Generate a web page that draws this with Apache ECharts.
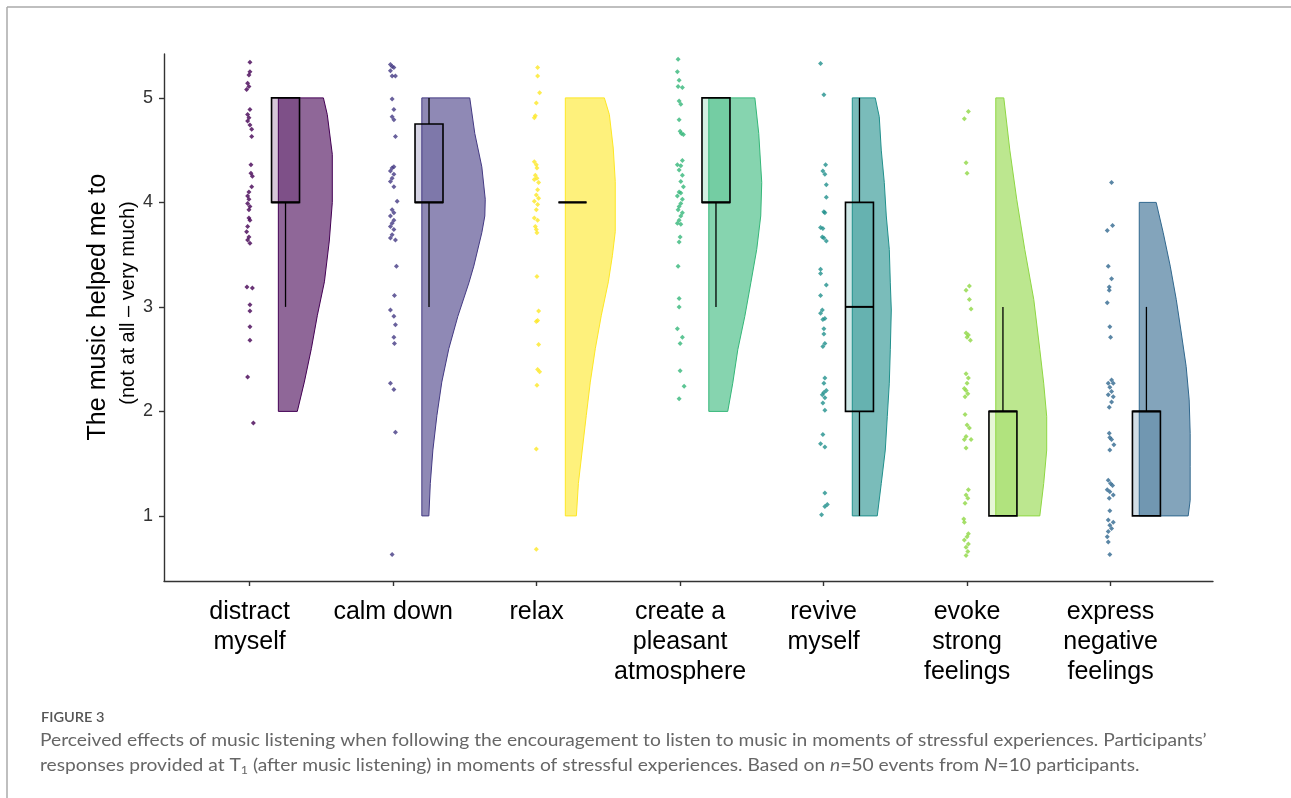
<!DOCTYPE html>
<html>
<head>
<meta charset="utf-8">
<script src="https://cdn.jsdelivr.net/npm/echarts@6/dist/echarts.min.js"></script>
<style>
  html, body { margin: 0; padding: 0; background: #fff; }
  #chart { width: 1291px; height: 798px; }
</style>
</head>
<body>
<div id="chart"></div>
<script>
// Categories of perceived effect, in display order
const categories = [
  'distract\nmyself', 'calm down', 'relax', 'create a\npleasant\natmosphere',
  'revive\nmyself', 'evoke\nstrong\nfeelings', 'express\nnegative\nfeelings'
];
const yTicks = [1, 2, 3, 4, 5];

// Jittered individual ratings: [rating as plotted, horizontal jitter]
const ptsDistract = [[5.34,0.002],[5.25,0.002],[5.22,-0.005],[5.14,-0.014],[5.11,-0.005],[5.08,-0.021],[4.89,0.002],[4.84,-0.014],[4.81,-0.005],[4.78,-0.014],[4.74,0.002],[4.70,0.014],[4.63,0.014],
  [4.36,0.009],[4.28,0.009],[4.25,0.019],[4.15,0.014],[4.10,-0.005],[4.06,-0.014],[4.03,-0.005],[3.99,-0.014],[3.96,0.002],[3.93,-0.005],[3.85,-0.005],[3.83,0.002],[3.77,-0.014],[3.72,-0.021],[3.67,-0.005],[3.64,-0.014],[3.61,0.002],
  [3.19,-0.019],[3.18,0.019],[3.02,0.002],[2.96,0.002],[2.81,0.002],[2.68,0.002],[2.33,-0.014],[1.89,0.026]];
const ptsCalm = [[5.32,-0.019],[5.30,-0.007],[5.29,0.005],[5.26,-0.019],[5.21,0.016],[5.21,-0.007],
  [4.99,-0.007],[4.89,0.005],[4.82,-0.007],[4.79,0.005],[4.63,0.016],
  [4.34,0.005],[4.33,-0.007],[4.30,-0.019],[4.27,0.005],[4.23,-0.007],[4.20,-0.019],[4.15,0.005],[4.01,0.028],
  [3.93,-0.007],[3.90,0.005],[3.87,-0.019],[3.83,0.005],[3.80,-0.007],[3.77,-0.019],[3.74,0.005],[3.69,-0.007],[3.66,-0.019],[3.64,0.016],
  [3.39,0.023],[3.11,0.009],[2.97,-0.019],[2.91,0.005],[2.83,0.016],[2.71,0.005],[2.65,0.009],
  [2.27,-0.019],[2.21,0.005],[1.80,0.016],[0.63,-0.007]];
const ptsRelax = [[5.29,0.007],[5.21,0.007],[5.05,0.021],[4.95,-0.002],[4.83,-0.009],[4.81,-0.016],
  [4.39,-0.016],[4.36,-0.002],[4.33,0.002],[4.26,-0.009],[4.23,0.002],[4.22,-0.016],[4.19,0.014],[4.12,0.007],[4.07,-0.002],[4.04,0.014],[4.01,-0.016],[3.98,0.007],[3.93,-0.002],[3.85,-0.016],[3.83,0.007],[3.77,-0.009],[3.74,-0.002],[3.71,0.002],
  [3.29,0.002],[2.96,0.014],[2.87,0.007],[2.86,-0.002],[2.64,0.014],[2.40,0.007],[2.38,0.021],[2.25,0.002],
  [1.64,-0.002],[0.68,-0.002]];
const ptsCreate = [[5.37,-0.014],[5.25,-0.019],[5.17,-0.007],[5.11,-0.014],[5.10,0.016],[4.97,-0.007],[4.94,0.005],[4.79,-0.007],[4.68,0.000],[4.66,0.009],[4.65,0.023],
  [4.40,0.016],[4.36,-0.019],[4.35,0.005],[4.31,-0.007],[4.26,0.016],[4.20,0.005],[4.15,0.023],[4.10,-0.007],[4.09,0.005],[4.06,-0.019],[4.03,0.016],[3.99,0.005],[3.96,-0.007],[3.93,-0.014],[3.90,0.016],[3.87,0.005],[3.83,-0.007],[3.80,-0.019],[3.79,0.005],[3.67,0.000],[3.62,-0.007],
  [3.39,-0.014],[3.08,-0.007],[3.00,-0.007],[2.79,-0.019],[2.71,0.016],[2.65,0.000],
  [2.39,0.000],[2.24,0.028],[2.12,-0.007]];
const ptsRevive = [[5.33,-0.021],[5.03,0.002],
  [4.36,0.014],[4.30,-0.005],[4.27,0.009],[4.17,0.019],[4.05,0.019],[3.91,0.002],[3.90,0.009],[3.76,-0.021],[3.75,-0.005],[3.67,-0.009],[3.66,0.002],[3.63,0.019],
  [3.36,-0.021],[3.32,-0.021],[3.21,0.019],[3.11,-0.021],[2.97,-0.009],[2.94,-0.021],[2.89,0.009],[2.88,-0.005],[2.79,0.002],[2.74,0.002],[2.65,0.009],[2.62,-0.005],
  [2.32,0.009],[2.27,0.002],[2.20,0.019],[2.18,0.002],[2.16,-0.009],[2.13,0.009],[2.08,-0.005],[2.01,0.009],
  [1.78,-0.005],[1.69,-0.021],[1.66,0.009],
  [1.22,0.009],[1.11,0.026],[1.09,0.009],[1.01,-0.014]];
const ptsEvoke = [[4.87,0.009],[4.80,-0.019],
  [4.38,-0.007],[4.28,0.000],
  [3.20,0.016],[3.16,-0.007],[3.07,0.016],[2.98,0.028],
  [2.75,-0.007],[2.73,0.009],[2.71,0.000],[2.68,0.023],
  [2.36,-0.007],[2.32,0.009],[2.27,0.000],[2.22,-0.019],[2.20,-0.007],[2.17,0.005],[2.14,-0.014],
  [1.97,-0.014],[1.87,0.000],[1.84,0.016],[1.76,-0.007],[1.73,-0.019],[1.73,0.028],[1.65,-0.007],
  [1.25,0.009],[1.20,-0.007],[1.17,0.005],[1.12,-0.014],
  [0.97,-0.023],[0.94,-0.019],
  [0.83,0.009],[0.80,0.000],[0.77,-0.019],[0.73,0.009],[0.70,-0.007],[0.66,0.005],[0.62,-0.007]];
const ptsExpress = [[4.19,0.007],
  [3.78,0.014],[3.73,-0.023],
  [3.39,-0.016],[3.27,0.007],[3.19,-0.009],[3.16,-0.009],[3.04,-0.023],
  [2.81,-0.005],[2.71,0.000],
  [2.30,0.007],[2.27,-0.016],[2.27,0.019],[2.23,-0.005],[2.19,0.007],[2.16,-0.016],[2.14,0.019],[2.09,0.007],[2.04,-0.009],
  [1.79,-0.009],[1.75,-0.005],[1.73,0.007],[1.68,0.023],[1.63,-0.005],
  [1.34,-0.016],[1.31,0.000],[1.29,0.014],[1.25,-0.023],[1.23,-0.005],[1.20,0.019],[1.17,-0.009],
  [1.05,-0.005],[0.96,-0.016],[0.94,0.019],[0.91,-0.005],[0.88,0.007],[0.85,-0.016],[0.80,-0.023],[0.75,-0.016],[0.63,-0.005]];

// Box statistics: [lower whisker, Q1, median, Q3, upper whisker]
const boxDistract = [3, 4, 4, 5, 5];
const boxCalm     = [3, 4, 4, 4.75, 5];
const boxRelax    = [4, 4, 4, 4, 4];
const boxCreate   = [3, 4, 4, 5, 5];
const boxRevive   = [1, 2, 3, 4, 5];
const boxEvoke    = [1, 1, 2, 2, 3];
const boxExpress  = [1, 1, 2, 2, 3];

// Half-violin density outlines: [rating, half-width in category units]
const violinDistract = [[2,0.132],[2.28,0.181],[2.6,0.230],[2.92,0.272],[3.24,0.321],[3.63,0.355],[4,0.376],[4.46,0.376],[4.84,0.341],[5,0.314]];
const violinCalm = [[1,0.049],[1.31,0.059],[1.63,0.077],[1.96,0.105],[2.28,0.139],[2.6,0.188],[2.91,0.251],[3.23,0.328],[3.39,0.362],[3.71,0.418],[3.87,0.439],[4.03,0.442],[4.34,0.418],[4.66,0.369],[5,0.334]];
const violinRelax = [[1,0.077],[1.31,0.091],[1.63,0.118],[1.96,0.146],[2.28,0.174],[2.6,0.209],[2.92,0.251],[3.24,0.300],[3.49,0.328],[3.72,0.348],[4.2,0.348],[4.52,0.334],[4.84,0.307],[5,0.272]];
const violinCreate = [[2,0.132],[2.27,0.167],[2.59,0.202],[2.91,0.251],[3.23,0.293],[3.55,0.334],[3.87,0.362],[4.19,0.369],[4.66,0.348],[5,0.321]];
const violinRevive = [[1,0.174],[1.31,0.202],[1.63,0.230],[1.95,0.244],[2.27,0.258],[2.59,0.265],[2.97,0.272],[3.23,0.265],[3.55,0.258],[3.87,0.237],[4.19,0.223],[4.5,0.202],[4.82,0.188],[5,0.160]];
const violinEvoke = [[1,0.307],[1.31,0.334],[1.63,0.355],[1.95,0.355],[2.27,0.334],[2.59,0.307],[3.07,0.265],[3.55,0.202],[4.03,0.146],[4.5,0.098],[5,0.056]];
const violinExpress = [[1,0.341],[1.15,0.355],[1.47,0.355],[1.79,0.355],[2.11,0.348],[2.43,0.327],[2.75,0.293],[3.07,0.258],[3.39,0.216],[3.71,0.167],[4,0.118]];

const points  = [ptsDistract, ptsCalm, ptsRelax, ptsCreate, ptsRevive, ptsEvoke, ptsExpress];
const boxes   = [boxDistract, boxCalm, boxRelax, boxCreate, boxRevive, boxEvoke, boxExpress];
const violins = [violinDistract, violinCalm, violinRelax, violinCreate, violinRevive, violinEvoke, violinExpress];

// viridis hues per category
const palette = ['#440154', '#443A83', '#FDE725', '#35B779', '#21908C', '#8FD744', '#31688E'];

const VIOLIN_OFF = 0.2;   // violin baseline, right of the category
const BOX_OFF = 0.25;     // box centre, right of the category
const BOX_W = 0.195;

function rgba(hex, a) {
  const n = parseInt(hex.slice(1), 16);
  return 'rgba(' + ((n >> 16) & 255) + ',' + ((n >> 8) & 255) + ',' + (n & 255) + ',' + a + ')';
}

function renderViolin(params, api) {
  const i = params.dataIndex;
  const xc = api.value(0) + VIOLIN_OFF;
  const prof = violins[i];
  const pts = [api.coord([xc, prof[0][0]])];
  prof.forEach(function (d) { pts.push(api.coord([xc + d[1], d[0]])); });
  pts.push(api.coord([xc, prof[prof.length - 1][0]]));
  return {
    type: 'polygon',
    shape: { points: pts },
    style: { fill: rgba(palette[i], 0.6), stroke: palette[i], lineWidth: 1 }
  };
}

function renderBox(params, api) {
  const i = params.dataIndex;
  const b = boxes[i];
  const xc = api.value(0) + BOX_OFF;
  const pLo = api.coord([xc, b[0]]), pQ1 = api.coord([xc, b[1]]), pMed = api.coord([xc, b[2]]);
  const pQ3 = api.coord([xc, b[3]]), pHi = api.coord([xc, b[4]]);
  const xl = api.coord([xc - BOX_W / 2, b[1]])[0];
  const xr = api.coord([xc + BOX_W / 2, b[1]])[0];
  const children = [];
  const wStyle = { stroke: '#000', lineWidth: 1.3 };
  if (b[4] > b[3]) children.push({ type: 'line', shape: { x1: pQ3[0], y1: pQ3[1], x2: pHi[0], y2: pHi[1] }, style: wStyle });
  if (b[0] < b[1]) children.push({ type: 'line', shape: { x1: pQ1[0], y1: pQ1[1], x2: pLo[0], y2: pLo[1] }, style: wStyle });
  children.push({
    type: 'rect',
    shape: { x: xl, y: pQ3[1], width: xr - xl, height: pQ1[1] - pQ3[1] },
    style: { fill: rgba(palette[i], 0.22), stroke: '#000', lineWidth: 1.6 }
  });
  children.push({ type: 'line', shape: { x1: xl, y1: pMed[1], x2: xr, y2: pMed[1] }, style: { stroke: '#000', lineWidth: 2 } });
  return { type: 'group', children: children };
}

const catIdx = categories.map(function (c, i) { return i + 1; });

const series = [
  {
    type: 'custom', name: 'density', renderItem: renderViolin, z: 2,
    data: violins.map(function (v, i) { return [i + 1, v[0][0], v[v.length - 1][0]]; }),
    encode: { x: 0, y: [1, 2] }, silent: true
  },
  {
    type: 'custom', name: 'box', renderItem: renderBox, z: 3,
    data: boxes.map(function (b, i) { return [i + 1, b[0], b[4]]; }),
    encode: { x: 0, y: [1, 2] }, silent: true
  }
];
points.forEach(function (arr, i) {
  series.push({
    type: 'scatter', z: 4, silent: true,
    symbol: 'diamond', symbolSize: 5,
    itemStyle: { color: palette[i] },
    data: arr.map(function (p) { return [i + 1 + p[1], p[0]]; })
  });
});

const chart = echarts.init(document.getElementById('chart'), null, { renderer: 'canvas' });
chart.setOption({
  animation: false,
  backgroundColor: '#fff',
  grid: { left: 164, right: 78, top: 54, bottom: 217, containLabel: false, outerBoundsMode: 'none' },
  xAxis: {
    type: 'value', min: 0.403, max: 7.714,
    splitLine: { show: false },
    axisLine: { show: true, onZero: false, lineStyle: { color: '#333', width: 1.4 } },
    axisTick: { show: true, customValues: catIdx, length: 5, lineStyle: { color: '#333', width: 1.4 } },
    axisLabel: {
      customValues: catIdx,
      formatter: function (v) { return categories[Math.round(v) - 1]; },
      fontFamily: 'Liberation Sans', fontSize: 25, lineHeight: 30, color: '#000', margin: 16
    }
  },
  yAxis: {
    type: 'value', min: 0.377, max: 5.42,
    splitLine: { show: false },
    axisLine: { show: true, onZero: false, lineStyle: { color: '#333', width: 1.4 } },
    axisTick: { show: true, customValues: yTicks, length: 5, lineStyle: { color: '#333', width: 1.4 } },
    axisLabel: { customValues: yTicks, fontFamily: 'Liberation Sans', fontSize: 18, color: '#333', margin: 11 }
  },
  graphic: [
    { type: 'line', shape: { x1: 7, y1: 7, x2: 1291, y2: 7 }, style: { stroke: '#aaa', lineWidth: 1.5 } },
    { type: 'line', shape: { x1: 7, y1: 7, x2: 7, y2: 798 }, style: { stroke: '#aaa', lineWidth: 1.5 } },
    { type: 'text', x: 98, y: 307, rotation: Math.PI / 2,
      style: { text: 'The music helped me to', font: '25px "Liberation Sans"', fill: '#000', align: 'center', verticalAlign: 'middle' } },
    { type: 'text', x: 128, y: 303, rotation: Math.PI / 2,
      style: { text: '(not at all \u2013 very much)', font: '20px "Liberation Sans"', fill: '#000', align: 'center', verticalAlign: 'middle' } },
    { type: 'text', x: 41, y: 717, scaleX: 1.04,
      style: { text: 'FIGURE 3', font: '600 14px Lato', fill: '#555', verticalAlign: 'middle' } },
    { type: 'text', x: 40, y: 741, scaleX: 1.13,
      style: { text: 'Perceived effects of music listening when following the encouragement to listen to music in moments of stressful experiences. Participants\u2019',
        font: '17px Lato', fill: '#666', verticalAlign: 'middle' } },
    { type: 'text', x: 40, y: 766, scaleX: 1.13,
      style: {
        text: 'responses provided at T{sub|1} (after music listening) in moments of stressful experiences. Based on {it|n}=50 events from {it|N}=10 participants.',
        font: '17px Lato', fill: '#666', verticalAlign: 'middle',
        rich: {
          sub: { font: '11px Lato', fill: '#666', padding: [9, 0, 0, 0] },
          it: { font: 'italic 17px Lato', fill: '#666' }
        }
      } }
  ],
  series: series
});
</script>
</body>
</html>
